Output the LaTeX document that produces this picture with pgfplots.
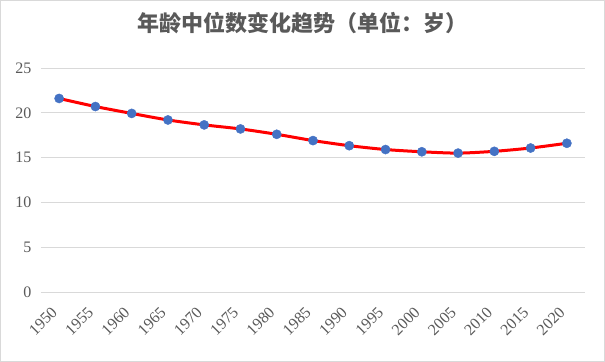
\documentclass[border=0pt]{standalone}
\usepackage{pgfplots}
\pgfplotsset{compat=1.18}
\usepackage{fontspec}
\setmainfont{Liberation Serif}
\newfontfamily\cjk{Noto Sans CJK SC}
\definecolor{gridc}{HTML}{D9D9D9}
\definecolor{txtc}{HTML}{595959}
\definecolor{markblue}{HTML}{4472C4}
\begin{document}
\begin{tikzpicture}
\useasboundingbox (0,0) rectangle (605bp,362bp);
\draw[gridc, line width=0.8bp] (0.5bp,0.5bp) rectangle (604.5bp,361.5bp);
\node[text=txtc, font={\cjk\bfseries\fontsize{22bp}{26bp}\selectfont}] at (302.5bp,339bp) {年龄中位数变化趋势（单位：岁）};
\begin{axis}[
  at={(41bp,70bp)}, anchor=south west,
  scale only axis, width=544bp, height=224bp,
  xmin=-0.5, xmax=14.5, ymin=0, ymax=25,
  ytick={0,5,10,15,20,25},
  xtick={0,1,...,14},
  xticklabels={1950,1955,1960,1965,1970,1975,1980,1985,1990,1995,2000,2005,2010,2015,2020},
  ymajorgrids, grid style={gridc, line width=0.8bp},
  axis line style={draw=none}, major tick style={draw=none},
  /pgf/number format/assume math mode=true,
  ticklabel style={text=txtc, font=\fontsize{16bp}{18bp}\selectfont},
  yticklabel style={xshift=-6bp},
  xticklabel style={xshift=-4bp, yshift=-17bp, inner sep=1bp, rotate=45, anchor=east},
  clip=false,
]
\addplot[red, line width=3bp, smooth, tension=0.45,
  mark=*, mark size=4.6bp, mark options={draw=markblue, fill=markblue, line width=0.4bp}]
  coordinates {
  (0,21.6) (1,20.7) (2,19.93) (3,19.2) (4,18.65) (5,18.2) (6,17.6) (7,16.9)
  (8,16.33) (9,15.9) (10,15.65) (11,15.5) (12,15.7) (13,16.07) (14,16.6)
  };
\end{axis}
\end{tikzpicture}
\end{document}
